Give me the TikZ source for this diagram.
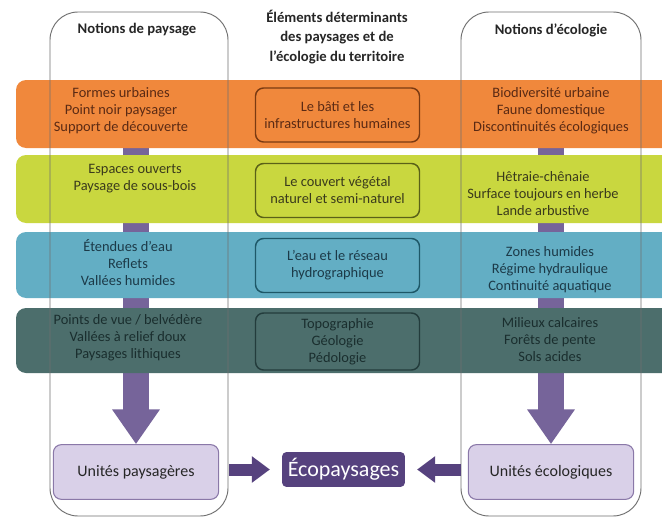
\documentclass[tikz,border=0pt]{standalone}
\usepackage{fontspec}
\setmainfont{Carlito}
\usetikzlibrary{arrows.meta}
\definecolor{bandorange}{HTML}{F0883C}
\definecolor{bandgreen}{HTML}{C9D73F}
\definecolor{bandblue}{HTML}{63AEC4}
\definecolor{bandteal}{HTML}{4C6E6C}
\definecolor{edgeorange}{HTML}{7A3A12}
\definecolor{edgegreen}{HTML}{5A6118}
\definecolor{edgeblue}{HTML}{1E5868}
\definecolor{edgeteal}{HTML}{233C3C}
\definecolor{txtorange}{HTML}{5A2A14}
\definecolor{txtgreen}{HTML}{3A3A1C}
\definecolor{txtblue}{HTML}{1C3A48}
\definecolor{txtteal}{HTML}{1A2E2E}
\definecolor{arrowpurple}{HTML}{76649A}
\definecolor{darkpurple}{HTML}{56427E}
\definecolor{unitfill}{HTML}{D9D0E8}
\definecolor{unitedge}{HTML}{8A78A8}
\definecolor{colline}{HTML}{707070}
\begin{document}
\begin{tikzpicture}[x=0.75pt,y=-0.75pt,line join=round,
    bandtext/.style={align=center,inner sep=0pt,font=\fontsize{10.8}{12.75}\selectfont},
    midbox/.style={draw,rounded corners=6pt,line width=1.1pt,minimum width=123pt,
      minimum height=40.5pt,align=center,inner sep=1pt,font=\fontsize{10.8}{12.75}\selectfont},
    unitbox/.style={draw=unitedge,fill=unitfill,rounded corners=6pt,line width=0.8pt,
      minimum width=124pt,minimum height=41pt,text=black!85,font=\fontsize{12}{14}\selectfont},
    title/.style={align=center,inner sep=0pt,text=black!85,font=\bfseries\fontsize{11}{14.5}\selectfont},
    bigarrow/.style={arrowpurple,line width=20pt,-{Triangle[width=34pt,length=26pt]}},
    sidearrow/.style={darkpurple,line width=9pt,-{Triangle[width=19pt,length=13.5pt]},shorten >=9pt},
    column/.style={colline,line width=0.7pt,rounded corners=21pt}]
  \clip (0,0) rectangle (662,518);
  % colonnes (fond)
  \fill[white] (0,0) rectangle (662,518);
  % unites
  \node[unitbox] (lunit) at (136,472) {Unités paysagères};
  \node[unitbox] (runit) at (551,472) {Unités écologiques};
  \coordinate (ltop) at (136,100);
  \coordinate (rtop) at (551,100);
  \draw[bigarrow] (ltop) -- (lunit.north);
  \draw[bigarrow] (rtop) -- (runit.north);
  % bandes
  \fill[bandorange,rounded corners=7.5pt] (16,80) rectangle (700,148);
  \fill[bandgreen,rounded corners=7.5pt] (16,155) rectangle (700,223);
  \fill[bandblue,rounded corners=7.5pt] (16,232) rectangle (700,298);
  \fill[bandteal,rounded corners=7.5pt] (16,308) rectangle (700,373);
  \draw[column] (50,12) rectangle (228,516);
  \draw[column] (461,12) rectangle (641,516);
  % titres
  \node[title] (tpay) at (137,30) {Notions de paysage};
  \node[title] (tmid) at (337,37) {Éléments déterminants\\des paysages et de\\l’écologie du territoire};
  \node[title] (teco) at (551,30) {Notions d’écologie};
  % bande 1
  \node[bandtext,text=txtorange] (o-l) at (121,111) {Formes urbaines\\Point noir paysager\\Support de découverte};
  \node[midbox,draw=edgeorange,text=txtorange] (o-m) at (337.5,115) {Le bâti et les\\infrastructures humaines};
  \node[bandtext,text=txtorange] (o-r) at (551,111) {Biodiversité urbaine\\Faune domestique\\Discontinuités écologiques};
  % bande 2
  \node[bandtext,text=txtgreen] (g-l) at (135,178.5) {Espaces ouverts\\Paysage de sous-bois};
  \node[midbox,draw=edgegreen,text=txtgreen] (g-m) at (337.5,190.5) {Le couvert végétal\\naturel et semi-naturel};
  \node[bandtext,text=txtgreen] (g-r) at (543,194) {Hêtraie-chênaie\\Surface toujours en herbe\\Lande arbustive};
  % bande 3
  \node[bandtext,text=txtblue] (b-l) at (128,263) {Étendues d’eau\\Reflets\\Vallées humides};
  \node[midbox,draw=edgeblue,text=txtblue] (b-m) at (337.5,265.5) {L’eau et le réseau\\hydrographique};
  \node[bandtext,text=txtblue] (b-r) at (550,270) {Zones humides\\Régime hydraulique\\Continuité aquatique};
  % bande 4
  \node[bandtext,text=txtteal] (t-l) at (128,338) {Points de vue / belvédère\\Vallées à relief doux\\Paysages lithiques};
  \node[midbox,draw=edgeteal,text=txtteal,minimum height=42.75pt] (t-m) at (337.5,341.5) {Topographie\\Géologie\\Pédologie};
  \node[bandtext,text=txtteal] (t-r) at (550,340) {Milieux calcaires\\Forêts de pente\\Sols acides};
  % ecopaysages
  \node[fill=darkpurple,text=white,rounded corners=3pt,minimum width=92pt,minimum height=26pt,
    inner sep=2pt,font=\fontsize{16.5}{18}\selectfont] (eco) at (343.5,469.5) {Écopaysages};
  \coordinate (lcolE) at (229,469.5);
  \coordinate (rcolW) at (461,469.5);
  \draw[sidearrow] (lcolE) -- (eco.west);
  \draw[sidearrow] (rcolW) -- (eco.east);
\end{tikzpicture}
\end{document}
